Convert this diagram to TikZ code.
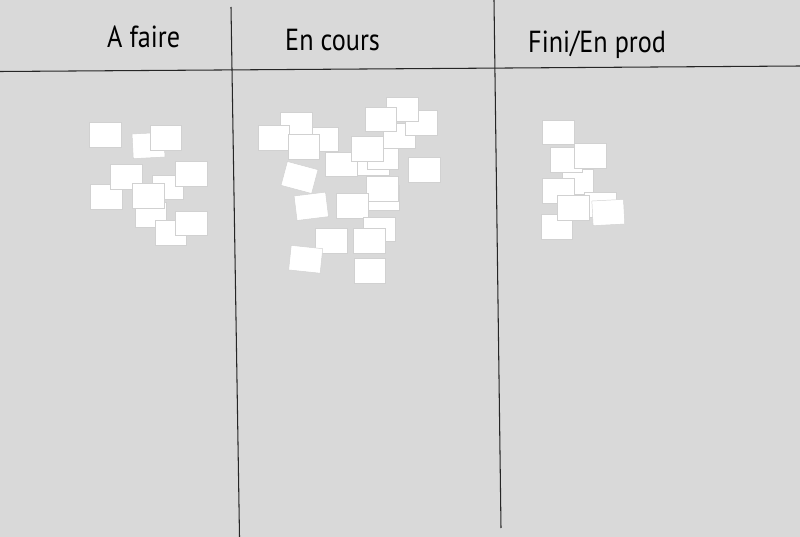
\documentclass[tikz,border=0pt]{standalone}
\usepackage{fontspec}
\setmainfont[FakeStretch=0.86]{PT Sans}

\begin{document}
\begin{tikzpicture}[
  x=0.03cm,y=-0.03cm,
  board/.style={fill=black!15},
  rule/.style={draw=black!85,line width=0.9pt},
  head/.style={anchor=base west,inner sep=0pt,font=\fontsize{26}{31}\selectfont},
  note/.style={draw=black!18,line width=0.4pt,fill=white,inner sep=0pt,
               minimum width=0.95cm,minimum height=0.74cm},
]

% board and its size, pixel units, y going down
\useasboundingbox[board] (0,0) rectangle (800,537);

% ---------------- column rules ----------------
\draw[rule] (0,71.5) -- (800,66);
\draw[rule] (231,7) -- (239.5,537);
\draw[rule] (494,0) -- (501,528);

% ---------------- column headings ----------------
\node[head] (todo)  at (107,48) {A faire};
\node[head] (doing) at (285,51) {En cours};
\node[head] (done)  at (528,53) {Fini/En prod};

% ---------------- notes, listed from bottom to top ----------------
\foreach \n/\x/\y/\r in {1/105/134.5/0, 2/148.5/145.5/3, 3/165.8/137.7/0,
    7/106/196.5/0, 4/126/177/0, 6/167.7/187.2/0, 5/191/174/0,
    9/150.8/214.5/0, 8/148.5/195.5/0, 11/170.8/233/0, 10/191/223.2/0}
  {\node[note,rotate=\r] (todo\n) at (\x,\y) {};}

\foreach \n/\x/\y/\r in {l/373.3/162.5/0, k/382.7/157/0, h/399.3/135.5/0,
    d/421.3/122.5/0, b/402.3/109.2/0, c/380.7/119.2/0, f/322/139.2/0,
    a/296.3/124.2/0, e/273.8/137.8/0, g/303.7/146.8/0, j/341/164.3/0,
    i/367.5/148.5/0, m/424.2/169.5/0, r/383.3/198/0, o/382.2/188.8/0,
    n/299.5/177.5/-15, q/352.5/205.5/0, p/311.3/206.3/7, s/379.5/229.2/0,
    u/369.2/240.8/0, t/331/241/0, v/305.7/259.3/-6, w/369.7/271/0}
  {\node[note,rotate=\r] (doing\n) at (\x,\y) {};}

\foreach \n/\x/\y/\r in {1/558.3/132.2/0, 4/577.7/181.7/0, 2/566.2/159.8/0,
    3/590.5/155.5/0, 5/558.2/190.5/0, 6/600/204.7/0, 9/556.8/226.7/0,
    7/573/207.8/0, 8/608.3/212.5/3}
  {\node[note,rotate=\r] (done\n) at (\x,\y) {};}

\end{tikzpicture}
\end{document}
